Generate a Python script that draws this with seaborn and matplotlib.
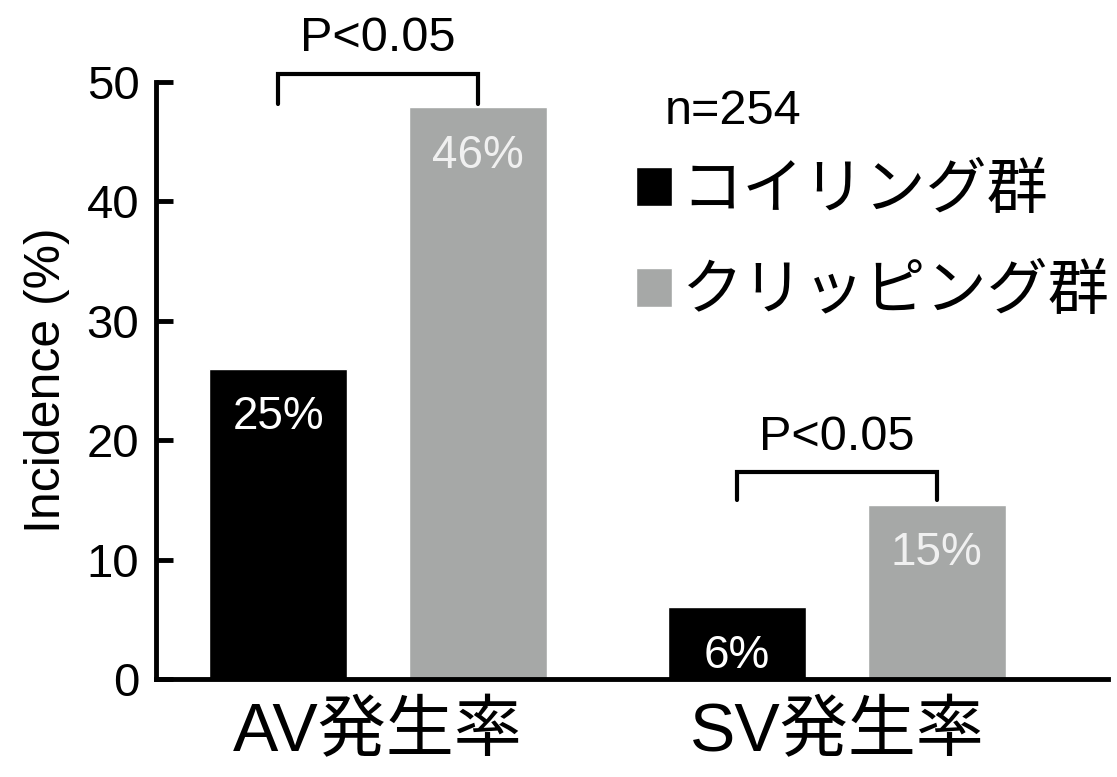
import matplotlib
matplotlib.use("Agg")
import pandas as pd
import matplotlib.pyplot as plt
import seaborn as sns

# データ
groups = ["AV発生率", "SV発生率"]
methods = ["コイリング群", "クリッピング群"]
coil_values = [26.0, 6.0]
clip_values = [47.9, 14.6]
coil_labels = ["25%", "6%"]
clip_labels = ["46%", "15%"]
bracket_top = [50.7, 17.3]
bracket_bottom = [48.2, 15.0]
p_texts = ["P<0.05", "P<0.05"]
n_text = "n=254"

colors = ["#000000", "#a6a8a7"]

sns.set_style("ticks")
plt.rcParams["font.family"] = ["Liberation Sans", "Noto Sans CJK JP", "DejaVu Sans"]
plt.rcParams["text.color"] = "black"
plt.rcParams["axes.labelcolor"] = "black"
plt.rcParams["xtick.color"] = "black"
plt.rcParams["ytick.color"] = "black"
plt.rcParams["axes.edgecolor"] = "black"

df = pd.DataFrame({
    "group": groups * 2,
    "method": [methods[0]] * 2 + [methods[1]] * 2,
    "value": coil_values + clip_values,
})

fig = plt.figure(figsize=(11.17, 7.77), dpi=100)
ax = fig.add_axes([0.1397, 0.1261, 0.852, 0.7683])

sns.barplot(data=df, x="group", y="value", hue="method", hue_order=methods,
            order=groups, palette=colors, saturation=1, width=0.87, gap=0.31,
            errorbar=None, ax=ax)

ax.set_ylim(0, 50)
ax.set_xlim(-0.484, 1.59)
ax.set_yticks([0, 10, 20, 30, 40, 50])
ax.set_xlabel("")
ax.set_ylabel("Incidence (%)", fontsize=36)
ax.yaxis.set_label_coords(-0.09, 0.5)

sns.despine(ax=ax)
for s in ["left", "bottom"]:
    ax.spines[s].set_linewidth(3.5)
ax.tick_params(axis="y", direction="in", length=12, width=3.5, labelsize=34, pad=12)
ax.tick_params(axis="x", length=0, labelsize=49, pad=16)

# バー内のラベル
text_colors = ["white", "#f0f0f0"]
for cont, labels, tc in zip(ax.containers, [coil_labels, clip_labels], text_colors):
    for bar, lab in zip(cont, labels):
        x = bar.get_x() + bar.get_width() / 2
        ax.annotate(lab, (x, bar.get_height()), xytext=(0, -19),
                    textcoords="offset points", ha="center", va="top",
                    color=tc, fontsize=33)

# 有意差ブラケット
coil_bars = list(ax.containers[0])
clip_bars = list(ax.containers[1])
for i in range(len(groups)):
    x0 = coil_bars[i].get_x() + coil_bars[i].get_width() / 2
    x1 = clip_bars[i].get_x() + clip_bars[i].get_width() / 2
    ax.plot([x0, x0, x1, x1],
            [bracket_bottom[i], bracket_top[i], bracket_top[i], bracket_bottom[i]],
            color="black", lw=3, clip_on=False, solid_joinstyle="miter")
    ax.annotate(p_texts[i], ((x0 + x1) / 2, bracket_top[i]), xytext=(0, 9),
                textcoords="offset points", ha="center", va="bottom",
                fontsize=35, annotation_clip=False)

# 凡例
ax.text(0.535, 0.95, n_text, transform=ax.transAxes, fontsize=35,
        ha="left", va="center")
handles, labels = ax.get_legend_handles_labels()
ax.legend(handles, labels, loc="upper left", bbox_to_anchor=(0.504, 0.862),
          frameon=False, fontsize=44, handlelength=0.6, handleheight=0.6,
          handletextpad=0.15, labelspacing=0.72, borderpad=0, borderaxespad=0)

fig.savefig("out.png", dpi=100)
